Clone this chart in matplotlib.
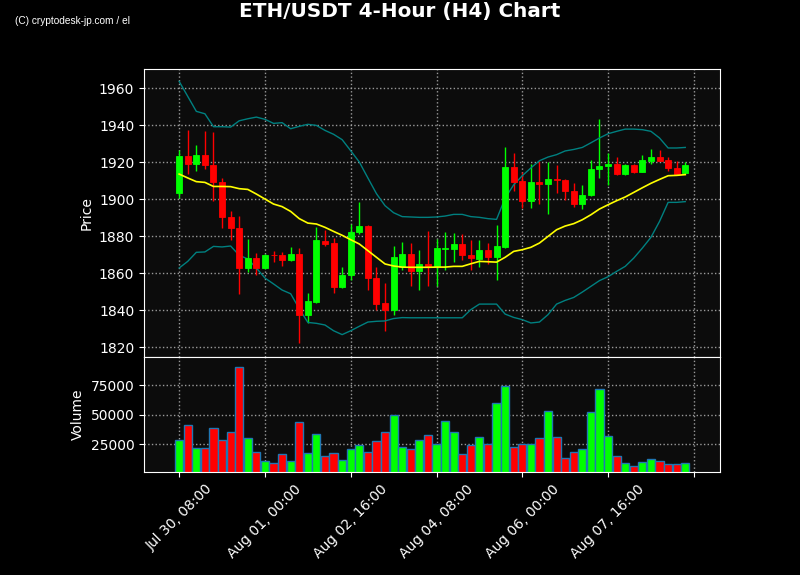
import matplotlib
matplotlib.use("Agg")
import matplotlib.pyplot as plt
import numpy as np
import pandas as pd

start = pd.Timestamp("2024-07-30 08:00")
n_candles = 60
dates = [start + pd.Timedelta(hours=4 * i) for i in range(n_candles)]

opens = [1903.1, 1923.4, 1918.7, 1924.0, 1918.5, 1909.4, 1890.5, 1884.5, 1862.5, 1868.3,
         1862.5, 1869.9, 1869.9, 1866.9, 1870.4, 1837.1, 1844.5, 1877.5, 1876.4, 1852.3,
         1858.7, 1882.0, 1885.4, 1857.3, 1843.9, 1839.8, 1863.2, 1870.4, 1861.0, 1865.1,
         1863.8, 1873.1, 1872.9, 1875.7, 1869.9, 1867.4, 1872.6, 1868.5, 1873.9, 1917.5,
         1909.6, 1898.7, 1909.4, 1907.9, 1911.1, 1910.5, 1904.5, 1897.1, 1902.0, 1916.0,
         1917.7, 1919.1, 1913.7, 1918.6, 1914.6, 1920.7, 1922.9, 1920.9, 1916.9, 1913.9]
highs = [1926.7, 1937.3, 1929.2, 1936.8, 1936.0, 1911.4, 1893.7, 1890.8, 1878.4, 1870.8,
         1870.2, 1872.1, 1871.2, 1874.3, 1873.7, 1849.2, 1884.9, 1883.1, 1878.7, 1863.2,
         1886.5, 1898.4, 1886.1, 1863.2, 1854.6, 1874.6, 1876.8, 1876.2, 1872.4, 1882.9,
         1878.4, 1882.2, 1881.6, 1881.0, 1877.9, 1877.9, 1876.2, 1886.0, 1928.3, 1924.9,
         1914.6, 1918.9, 1920.4, 1920.0, 1918.6, 1910.9, 1908.7, 1907.6, 1920.9, 1943.2,
         1925.0, 1922.7, 1919.1, 1919.1, 1924.0, 1927.0, 1926.3, 1922.9, 1920.4, 1919.8]
lows = [1900.5, 1913.5, 1915.1, 1916.2, 1898.9, 1884.3, 1877.8, 1848.6, 1860.5, 1858.7,
        1862.3, 1866.0, 1863.8, 1866.7, 1822.2, 1833.0, 1843.6, 1874.8, 1849.2, 1852.1,
        1856.0, 1881.0, 1850.8, 1840.2, 1828.8, 1837.4, 1861.4, 1853.0, 1850.9, 1853.1,
        1853.0, 1861.5, 1865.8, 1866.9, 1861.9, 1863.2, 1865.0, 1856.1, 1873.5, 1904.1,
        1895.1, 1895.1, 1897.3, 1891.9, 1903.2, 1899.3, 1895.6, 1894.6, 1901.8, 1911.4,
        1907.8, 1912.8, 1912.9, 1913.9, 1914.4, 1918.9, 1920.5, 1915.1, 1913.0, 1913.7]
closes = [1923.4, 1918.7, 1924.0, 1918.2, 1909.0, 1890.1, 1884.3, 1862.5, 1868.3, 1862.5,
          1869.9, 1869.5, 1866.9, 1870.4, 1837.1, 1845.0, 1877.7, 1875.9, 1852.3, 1859.1,
          1882.3, 1885.4, 1857.1, 1843.4, 1839.8, 1868.5, 1870.4, 1861.0, 1865.1, 1863.8,
          1873.3, 1873.4, 1875.7, 1869.9, 1868.0, 1872.2, 1868.5, 1874.8, 1917.5, 1909.0,
          1898.7, 1909.4, 1908.3, 1911.1, 1910.3, 1904.1, 1897.1, 1902.3, 1916.4, 1918.0,
          1919.1, 1913.7, 1918.6, 1914.6, 1921.1, 1922.9, 1920.8, 1916.9, 1913.7, 1918.6]
sma = [1913.5, 1911.4, 1909.4, 1909.0, 1906.8, 1906.8, 1906.7, 1905.6, 1905.2, 1902.7,
       1900.0, 1897.3, 1895.9, 1893.3, 1889.4, 1887.0, 1886.5, 1884.7, 1882.5, 1880.4,
       1878.0, 1875.7, 1872.1, 1868.5, 1864.9, 1863.8, 1863.2, 1863.1, 1863.1, 1863.1,
       1863.2, 1863.2, 1863.6, 1863.6, 1865.0, 1866.3, 1866.1, 1865.9, 1868.5, 1871.7,
       1872.6, 1873.9, 1876.2, 1879.8, 1883.4, 1885.4, 1886.7, 1888.8, 1891.5, 1894.6,
       1896.9, 1899.1, 1901.1, 1903.6, 1906.1, 1908.5, 1910.6, 1912.6, 1912.8, 1913.2]
upper = [1963.6, 1955.5, 1947.4, 1946.1, 1939.1, 1939.1, 1938.9, 1942.3, 1943.4, 1944.3,
         1943.1, 1940.9, 1941.3, 1938.0, 1939.3, 1940.4, 1939.8, 1937.1, 1935.0, 1932.1,
         1926.1, 1920.0, 1911.4, 1902.9, 1896.4, 1892.6, 1890.5, 1890.3, 1890.1, 1890.1,
         1890.3, 1890.8, 1891.7, 1891.7, 1890.5, 1890.1, 1889.4, 1889.0, 1900.5, 1907.7,
         1912.6, 1916.8, 1920.7, 1922.7, 1924.0, 1926.0, 1926.8, 1927.9, 1930.4, 1933.0,
         1935.3, 1936.6, 1937.8, 1937.8, 1937.5, 1936.6, 1933.0, 1927.6, 1927.6, 1927.9]
lower = [1862.7, 1866.3, 1871.2, 1871.4, 1874.4, 1874.1, 1874.6, 1869.6, 1867.6, 1862.7,
         1857.3, 1854.1, 1850.8, 1848.8, 1840.7, 1833.3, 1832.8, 1831.9, 1828.8, 1826.7,
         1828.8, 1831.2, 1833.5, 1833.9, 1834.1, 1835.4, 1835.9, 1835.8, 1835.8, 1835.8,
         1835.8, 1835.8, 1835.8, 1835.8, 1840.2, 1843.2, 1843.2, 1843.2, 1837.8, 1836.0,
         1834.8, 1833.0, 1833.5, 1837.5, 1843.2, 1845.2, 1846.8, 1849.7, 1852.8, 1855.9,
         1858.0, 1860.9, 1863.6, 1868.1, 1873.5, 1879.3, 1887.9, 1898.2, 1898.2, 1898.6]
volumes = [28400, 41050, 21650, 21650, 38500, 28400, 35150, 89950, 30100, 18300,
           10700, 9000, 16600, 10700, 43600, 17450, 33450, 14900, 17450, 11550,
           20800, 24200, 18300, 27600, 35150, 49500, 22500, 20800, 28400, 32600,
           25000, 44400, 35150, 16600, 24200, 30900, 25000, 59600, 73900, 22500,
           25000, 25000, 30100, 52850, 30900, 13250, 18300, 20800, 52000, 71400,
           31800, 14900, 9000, 6500, 9850, 12400, 10700, 8200, 8200, 9000]

price_ticks = [1820, 1840, 1860, 1880, 1900, 1920, 1940, 1960]
volume_ticks = [25000, 50000, 75000]
tick_idx = list(range(0, 61, 10))
tick_labels = [dates[i].strftime("%b %d, %H:%M") if i < n_candles else "" for i in tick_idx]

UP = "#00ff00"
DOWN = "#ff0000"
BG = "#0c0c0c"

fig = plt.figure(figsize=(8, 5.75), dpi=100, facecolor="black")
ax = fig.add_axes([0.18, 1 - 357 / 575, 0.72, 288 / 575])
axv = fig.add_axes([0.18, 1 - 472 / 575, 0.72, 115 / 575], sharex=ax)

x = np.arange(n_candles)
o = np.array(opens); c = np.array(closes); h = np.array(highs); l = np.array(lows)
cols = [UP if cc >= oo else DOWN for oo, cc in zip(o, c)]

ax.vlines(x, l, h, colors=cols, linewidth=1, zorder=2)
ax.bar(x, np.abs(c - o), bottom=np.minimum(o, c), width=0.7, color=cols,
       edgecolor=cols, linewidth=0.6, zorder=3)
ax.plot(x, upper, color="#008080", linewidth=1, zorder=2)
ax.plot(x, lower, color="#008080", linewidth=1, zorder=2)
ax.plot(x, sma, color="#ffff00", linewidth=1.2, zorder=4)

axv.bar(x, volumes, width=0.95, color=cols, edgecolor="#1f77b4", linewidth=1, zorder=2)

for a in (ax, axv):
    a.set_facecolor(BG)
    a.grid(True, color="#aaaaaa", linestyle=":", linewidth=1, alpha=0.9)
    a.set_axisbelow(True)
    for s in a.spines.values():
        s.set_color("white")
    a.tick_params(colors="white", labelsize=10)

ax.set_xlim(-4.1, 63.05)
ax.set_ylim(1814.6, 1970.3)
ax.set_yticks(price_ticks)
ax.set_ylabel("Price", color="white", fontsize=10)
ax.tick_params(axis="x", labelbottom=False, length=0)

axv.set_ylim(1700, 98600)
axv.set_yticks(volume_ticks)
axv.set_ylabel("Volume", color="white", fontsize=10)
axv.set_xticks(tick_idx)
axv.set_xticklabels(tick_labels, rotation=45, ha="center")

fig.text(0.5, 0.997, "ETH/USDT 4-Hour (H4) Chart", color="white", fontsize=14.4,
         fontweight="bold", ha="center", va="top")
fig.text(15 / 800, 1 - 21 / 575, "(C) cryptodesk-jp.com / el", color="white",
         fontsize=7.3, ha="left", va="center", family="Liberation Sans")

fig.savefig("out.png", dpi=100, facecolor="black")
